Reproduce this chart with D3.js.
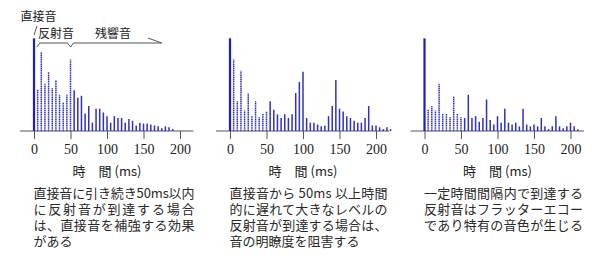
<!DOCTYPE html>
<html><head><meta charset="utf-8">
<script src="https://cdn.jsdelivr.net/npm/d3@7"></script>
<style>body{margin:0;background:#fff}</style>
</head><body>
<svg id="c" width="600" height="270"></svg>
<script>
// ---- data ----
const stepMs = 5; // reflections arrive every 5 ms
const panel1Values = [100,45,85,51,64,46,55,39,31,39,77,44,36,38,19,27,9,24,24,20,16,9,16,14,14,9,13,11,6,9,8,8,7,6,5,3,5,4,2];
const panel2Values = [100,77,32,65,22,41,16,32,15,19,21,32,23,18,14,18,14,18,41,53,64,14,9,9,7,5,6,16,27,55,24,21,16,14,11,9,9,14,27,6,6,4,2,4,2];
const panel3Values = [100,23,27,22,51,19,19,15,37,19,15,14,39,14,16,10,14,34,12,7,16,9,24,9,7,9,5,24,7,5,7,5,14,5,2,5,16,5,3,5,9,5,2];
const tickValues = [0,50,100,150,200];
const axisTitle = "時\u3000間 (ms)";
const captions1 = ["直接音に引き続き50ms以内","に反射音が到達する場合","は、直接音を補強する効果","がある"];
const captions2 = ["直接音から 50ms 以上時間","的に遅れて大きなレベルの","反射音が到達する場合は、","音の明瞭度を阻害する"];
const captions3 = ["一定時間間隔内で到達する","反射音はフラッターエコー","であり特有の音色が生じる"];
const labelDirect = "直接音", labelEarly = "反射音", labelLate = "残響音";

// ---- layout ----
const svg = d3.select("#c");
const cjk = "'Noto Sans CJK JP','Noto Sans CJK SC',sans-serif";
const serif = "'Liberation Serif','DejaVu Serif',serif";
const y = d3.scaleLinear().domain([0,100]).range([131,38.3]);

const panels = [
  {vals: panel1Values, x0: 34,    caps: captions1, capW: 161, just: [true,true,true,false]},
  {vals: panel2Values, x0: 230,   caps: captions2, capW: 158, just: [true,true,true,false]},
  {vals: panel3Values, x0: 424.5, caps: captions3, capW: 159, just: [true,true,true]}
];

panels.forEach(p => {
  const x = d3.scaleLinear().domain([0,200]).range([p.x0, p.x0+146]);
  const g = svg.append("g");
  // baseline
  g.append("line").attr("x1", x(0)-14).attr("x2", x(200)+13.5)
    .attr("y1", y(0)).attr("y2", y(0)).attr("stroke","#555").attr("stroke-width",1);
  // axis ticks
  const ax = d3.axisBottom(x).tickValues(tickValues).tickSize(8).tickPadding(5);
  const axg = g.append("g").attr("transform",`translate(0,${y(0)})`).call(ax);
  axg.select(".domain").remove();
  axg.selectAll(".tick line").attr("stroke","#555");
  axg.selectAll(".tick text").style("font-family",serif).style("font-size","14px").attr("fill","#222");
  // bars
  g.selectAll("line.bar").data(p.vals).join("line").attr("class","bar")
    .attr("x1",(d,i)=>x(i*stepMs)).attr("x2",(d,i)=>x(i*stepMs))
    .attr("y1",y(0)).attr("y2",d=>y(d))
    .attr("stroke",(d,i)=> i===0 ? "#1c1cc8" : "#3030c4")
    .attr("stroke-width",(d,i)=> i===0 ? 2.2 : 1.5)
    .attr("stroke-dasharray",(d,i)=> (i>0 && i*stepMs<=50) ? "1.6 0.6" : null);
  // axis title
  g.append("text").attr("x", x(100)).attr("y",176).attr("text-anchor","middle")
    .style("font-family",cjk).style("font-size","13px").attr("fill","#222").text(axisTitle);
  // caption block: one text element, one tspan per line
  const cap = g.append("text").style("font-family",cjk).style("font-size","13px").attr("fill","#2a2a2a");
  p.caps.forEach((c,i)=>{
    const t = cap.append("tspan").attr("x", x(0)-0.5).attr("y",198+i*16).text(c);
    if (p.just[i]) t.attr("textLength", p.capW).attr("lengthAdjust","spacing");
  });
});

// ---- annotations on the first panel ----
const xa = d3.scaleLinear().domain([0,200]).range([34,180]);
const ann = svg.append("g").attr("fill","none").attr("stroke","#555").attr("stroke-width",1);
ann.append("line").attr("x1",xa(0)).attr("y1",35).attr("x2",xa(0)+3).attr("y2",26);
ann.append("path").attr("d",
  `M${xa(4)},47 L${xa(8)},43 L${xa(46)},43 L${xa(50)},47 L${xa(54)},43 L${xa(175)},43 M${xa(156)},38 L${xa(175)},43`);
svg.append("text").attr("x",20.5).attr("y",20.5).style("font-family",cjk).style("font-size","12px").attr("fill","#222").text(labelDirect);
svg.append("text").attr("x",38).attr("y",38).style("font-family",cjk).style("font-size","12px").attr("fill","#222").text(labelEarly);
svg.append("text").attr("x",95).attr("y",38).style("font-family",cjk).style("font-size","12px").attr("fill","#222").text(labelLate);
</script>
</body></html>
